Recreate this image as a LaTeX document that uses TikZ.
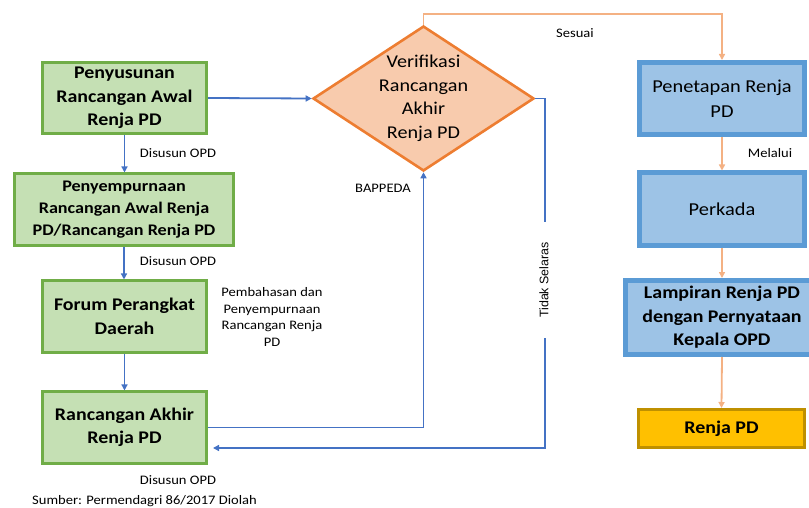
\documentclass[tikz,border=0pt]{standalone}
\usepackage{fontspec}
\setmainfont{Carlito}[FakeStretch=1.12]
\newfontfamily\arialf{Liberation Sans}
\usetikzlibrary{arrows.meta,shapes.geometric}
\definecolor{gfill}{HTML}{C5E0B4}
\definecolor{gdraw}{HTML}{70AD47}
\definecolor{bfill}{HTML}{9DC3E6}
\definecolor{bdraw}{HTML}{5B9BD5}
\definecolor{ofill}{HTML}{F8CBAD}
\definecolor{odraw}{HTML}{ED7D31}
\definecolor{oline}{HTML}{F4B183}
\definecolor{bline}{HTML}{4472C4}
\definecolor{yfill}{HTML}{FFC000}
\definecolor{ydraw}{HTML}{BF9000}
\begin{document}
\begin{tikzpicture}[x=1pt,y=-1pt,
  gbox/.style={draw=gdraw, fill=gfill, line width=2.6pt, align=center, inner sep=0pt,
    font=\bfseries\fontsize{17.8}{23.5}\selectfont, minimum width=164.5pt, minimum height=71.5pt},
  bbox/.style={draw=bdraw, fill=bfill, line width=5pt, align=center, inner sep=0pt,
    font=\fontsize{18.2}{24.5}\selectfont, minimum width=165pt, minimum height=72pt},
  lbl/.style={font=\fontsize{13}{16.5}\selectfont, align=center, inner sep=0pt},
  barrow/.style={draw=bline, line width=1.8pt, -{Triangle[length=6pt,width=6pt]}},
  bline/.style={draw=bline, line width=1.8pt},
  oarrow/.style={draw=oline, line width=1.8pt, -{Triangle[length=6pt,width=6pt]}}
]
\useasboundingbox (0,0) rectangle (809,508);

% left column
\node[gbox] (b1) at (124.5,98) {Penyusunan\\Rancangan Awal\\Renja PD};
\node[gbox, minimum width=219pt, font=\bfseries\fontsize{16.2}{22}\selectfont] (b2) at (124,209.5)
  {Penyempurnaan\\Rancangan Awal Renja\\PD/Rancangan Renja PD};
\node[gbox] (b3) at (124.5,316.5) {Forum Perangkat\\Daerah};
\node[gbox] (b4) at (124.5,427.5) {Rancangan Akhir\\Renja PD};

% diamond
\node[diamond, draw=odraw, fill=ofill, line width=2.6pt, inner sep=0pt, aspect=1.53,
  minimum width=221pt, minimum height=145pt, align=center,
  font=\fontsize{18}{23.5}\selectfont] (ver) at (423.5,98.5)
  {Verifikasi\\Rancangan\\Akhir\\Renja PD};

% right column
\node[bbox] (pen) at (722,98.5) {Penetapan Renja\\PD};
\node[bbox] (perk) at (722,209) {Perkada};
\node[bbox, minimum width=193pt, minimum height=74pt, font=\bfseries\fontsize{17.8}{23.5}\selectfont] (lamp) at (722,317.5)
  {Lampiran Renja PD\\dengan Pernyataan\\Kepala OPD};
\node[draw=ydraw, fill=yfill, line width=3pt, minimum width=166pt, minimum height=38pt, inner sep=0pt,
  font=\bfseries\fontsize{17.8}{22}\selectfont] (renja) at (721.5,428.5) {Renja PD};

% connectors left
\draw[barrow] (b1.south) -- (b1.south |- b2.north);
\draw[barrow] (b2.south) -- (b2.south |- b3.north);
\draw[barrow] (b3.south) -- (b3.south |- b4.north);
\draw[barrow] (b1.east) -- (ver.west);
\draw[barrow] (b4.east) -| (ver.south);

% Tidak Selaras return
\coordinate (r1) at (545,98.5);
\coordinate (g1) at (545,222);
\coordinate (g2) at (545,338);
\coordinate (r2) at (545,448);
\coordinate (r3) at (213,448);
\draw[bline] (ver.east) -- (r1) -- (g1);
\draw[barrow] (g2) -- (r2) -- (r3);
\node[font=\arialf\fontsize{12.4}{14}\selectfont, rotate=90, inner sep=0pt] (ts) at (544,280) {Tidak Selaras};

% orange connectors
\coordinate (otop) at (423.5,14);
\draw[oarrow] (ver.north) -- (otop) -| (pen.north);
\draw[oarrow] (pen.south) -- (perk.north);
\draw[oarrow] (perk.south) -- (lamp.north);
\draw[oarrow] (lamp.south) -- (renja.north);

% labels
\node[lbl] (l1) at (178,153) {Disusun OPD};
\node[lbl] (l2) at (178,261) {Disusun OPD};
\node[lbl] (l3) at (272,317) {Pembahasan dan\\Penyempurnaan\\Rancangan Renja\\PD};
\node[lbl] (l4) at (178,480) {Disusun OPD};
\node[lbl] (l5) at (383,188) {BAPPEDA};
\node[lbl] (l6) at (575,33) {Sesuai};
\node[lbl] (l7) at (770,153) {Melalui};
\node[lbl, anchor=west] (src) at (32,501) {Sumber: Permendagri 86/2017 Diolah};
\end{tikzpicture}
\end{document}
